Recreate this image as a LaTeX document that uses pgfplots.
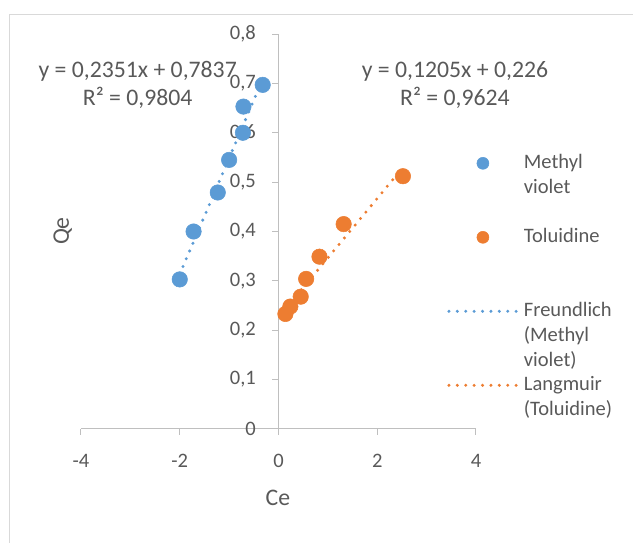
\documentclass[border=0pt]{standalone}
\usepackage{fontspec}
\setmainfont{Carlito}
\usepackage{pgfplots}
\pgfplotsset{compat=1.18}
\definecolor{mvblue}{HTML}{5B9BD5}
\definecolor{tolor}{HTML}{ED7D31}
\definecolor{axgray}{HTML}{BFBFBF}
\definecolor{txt}{HTML}{595959}
\definecolor{bord}{HTML}{D9D9D9}
\pgfplotsset{
  markimg/.style={legend image code/.code={\path (0pt,0pt) (51pt,0pt); \draw[mark repeat=2,mark phase=2,##1,mark size=4.5pt] plot coordinates {(0pt,0pt)(25.5pt,0pt)(51pt,0pt)};}},
  lineimg/.style={legend image code/.code={\draw[##1] (0pt,0pt) -- (51pt,0pt);}},
}
\begin{document}
\begin{tikzpicture}
\begin{axis}[
  at={(0pt,0pt)}, anchor=south west,
  scale only axis, width=296.25pt, height=296.25pt,
  xmin=-4, xmax=4, ymin=0, ymax=0.8,
  axis x line=bottom, axis y line=middle,
  axis line style={axgray, line width=0.75pt, -},
  tick align=outside,
  major tick length=4.5pt,
  tick style={axgray, line width=0.75pt},
  xtick={-4,-2,0,2,4},
  ytick={0,0.1,0.2,0.3,0.4,0.5,0.6,0.7,0.8},
  minor tick num=0,
  hide obscured x ticks=false, hide obscured y ticks=false,
  /pgf/number format/assume math mode=true,
  ticklabel style={font=\fontsize{15.4}{18}\selectfont, text=txt},
  yticklabel style={xshift=-9pt, /pgf/number format/.cd, fixed, precision=1, use comma},
  xticklabel style={yshift=-11pt, /pgf/number format/.cd, fixed, precision=0},
  every axis x label/.style={at={(axis description cs:0.4987,-0.1747)}, anchor=center, font=\fontsize{17.8}{21}\selectfont, text=txt},
  every axis y label/.style={at={(axis description cs:-0.046,0.501)}, anchor=center, rotate=90, font=\fontsize{17.8}{21}\selectfont, text=txt},
  xlabel={Ce}, ylabel={Qe},
  legend cell align=left,
  legend style={at={(0.9266,0.767)}, anchor=north west, draw=none, fill=none,
    inner sep=0pt, column sep=4pt, row sep=0pt,
    font=\fontsize{15.4}{18.75}\selectfont, text=txt,
    nodes={inner sep=0pt, text height=31.5pt, text depth=24pt}},
  clip=false,
]
\addplot[only marks, mark=*, mark size=5.8pt, color=mvblue, markimg]
  coordinates {(-2.00,0.303) (-1.72,0.400) (-1.23,0.479) (-1.00,0.545) (-0.72,0.600) (-0.71,0.653) (-0.32,0.697)};
\addlegendentry{\parbox[t]{3cm}{Methyl\\violet}}
\addplot[only marks, mark=*, mark size=5.8pt, color=tolor, markimg]
  coordinates {(0.14,0.233) (0.24,0.248) (0.45,0.268) (0.56,0.304) (0.83,0.349) (1.32,0.415) (2.52,0.512)};
\addlegendentry{\parbox[t]{3cm}{Toluidine}}
\addplot[mvblue, line width=2.5pt, line cap=round, dash pattern=on 0pt off 6.3pt, lineimg]
  coordinates {(-2.00,0.3135) (-0.32,0.7085)};
\addlegendentry{\parbox[t]{3cm}{Freundlich\\(Methyl\\violet)}}
\addplot[tolor, line width=2.5pt, line cap=round, dash pattern=on 0pt off 6.3pt, lineimg]
  coordinates {(0.14,0.2429) (2.52,0.5297)};
\addlegendentry{\parbox[t]{3cm}{Langmuir\\(Toluidine)}}
\node[align=center, font=\fontsize{17.8}{21}\selectfont, text=txt] at (axis cs:-2.853,0.697) {y = 0,2351x + 0,7837\\R² = 0,9804};
\node[align=center, font=\fontsize{17.8}{21}\selectfont, text=txt] at (axis cs:3.574,0.697) {y = 0,1205x + 0,226\\R² = 0,9624};
\end{axis}
\draw[bord, line width=0.75pt] (-53.25pt,-85.5pt) -- (-53.25pt,310.5pt) -- (414pt,310.5pt);
\pgfresetboundingbox
\path[use as bounding box] (-60.75pt,-85.5pt) rectangle (414pt,321.75pt);
\end{tikzpicture}
\end{document}
